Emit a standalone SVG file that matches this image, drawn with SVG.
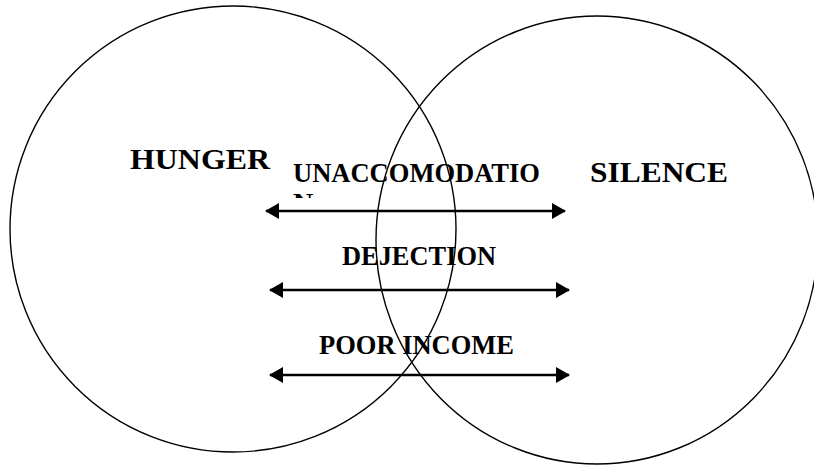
<svg xmlns="http://www.w3.org/2000/svg" width="814" height="468" viewBox="0 0 814 468">
  <style>
    .set { fill: none; stroke: #000; stroke-width: 1.4; }
    .head { font-family: "Liberation Serif", "Times New Roman", serif; font-weight: bold; font-size: 29.5px; fill: #000; }
    .lbl { font-family: "Liberation Serif", "Times New Roman", serif; font-weight: bold; font-size: 28px; fill: #000; }
    .link { stroke: #000; stroke-width: 2.6; fill: none; marker-start: url(#tip); marker-end: url(#tip); }
  </style>
  <defs>
    <marker id="tip" viewBox="0 0 14 16" refX="13" refY="8" markerWidth="14" markerHeight="16" markerUnits="userSpaceOnUse" orient="auto-start-reverse">
      <path d="M0,0 L14,8 L0,16 Z" fill="#000"/>
    </marker>
    <!-- the wrapped second line of the label is cut by its text box -->
    <clipPath id="wrapClip">
      <rect x="280" y="150" width="280" height="48"/>
    </clipPath>
  </defs>
  <rect width="814" height="468" fill="#fff"/>

  <g id="hunger">
    <ellipse class="set" cx="233" cy="229" rx="223" ry="223"/>
    <text class="head" x="130" y="169" textLength="140" lengthAdjust="spacingAndGlyphs">HUNGER</text>
  </g>

  <g id="silence">
    <ellipse class="set" cx="597" cy="240" rx="221" ry="224"/>
    <text class="head" x="590" y="182" textLength="138" lengthAdjust="spacingAndGlyphs">SILENCE</text>
  </g>

  <g id="connectors">
    <g id="unaccomodation">
      <g clip-path="url(#wrapClip)">
        <text class="lbl" x="293" y="182" textLength="247" lengthAdjust="spacingAndGlyphs">UNACCOMODATIO</text>
        <text class="lbl" x="293" y="212">N</text>
      </g>
      <line class="link" x1="266" y1="211" x2="565" y2="211"/>
    </g>
    <g id="dejection">
      <text class="lbl" x="342" y="265" textLength="154" lengthAdjust="spacingAndGlyphs">DEJECTION</text>
      <line class="link" x1="270" y1="290" x2="569" y2="290"/>
    </g>
    <g id="poor-income">
      <text class="lbl" x="319" y="354" textLength="195" lengthAdjust="spacingAndGlyphs">POOR INCOME</text>
      <line class="link" x1="270" y1="375" x2="569" y2="375"/>
    </g>
  </g>
</svg>
